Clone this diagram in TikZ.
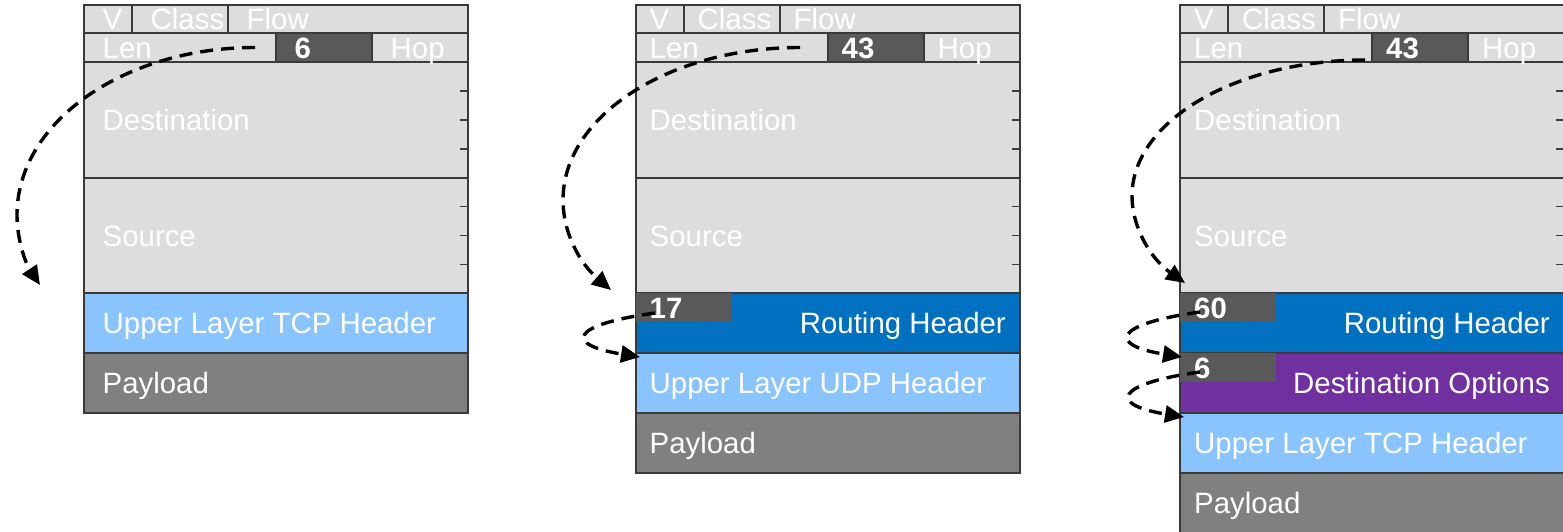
\documentclass[tikz,border=0pt]{standalone}
\usepackage{fontspec}
\setmainfont{Liberation Sans}
\usetikzlibrary{arrows.meta,calc}

\definecolor{fieldgray}{HTML}{DDDDDD}
\definecolor{numgray}{HTML}{595959}
\definecolor{paygray}{HTML}{808080}
\definecolor{ulblue}{HTML}{89C4FF}
\definecolor{rtblue}{HTML}{0070C0}
\definecolor{dopurple}{HTML}{7030A0}
\definecolor{edge}{HTML}{3A3A3A}

% Fixed IPv6 header: #1 tag, #2 left x, #3 text inset, #4 next-header value
\newcommand{\ipfixed}[4]{%
  \node[cell, minimum width=48pt,  minimum height=28pt] (ver#1) at (#2,5) {};
  \node[cell, minimum width=96pt,  minimum height=28pt] (cls#1) at (#2+48,5) {};
  \node[cell, minimum width=240pt, minimum height=28pt] (flw#1) at (#2+144,5) {};
  \node[cell, minimum width=192pt, minimum height=29pt] (len#1) at (#2,33) {};
  \node[cell, fill=numgray, minimum width=96pt, minimum height=29pt] (nxt#1) at (#2+192,33) {};
  \node[cell, minimum width=96pt,  minimum height=29pt] (hop#1) at (#2+288,33) {};
  \node[cell, minimum width=384pt, minimum height=116pt] (dst#1) at (#2,62) {};
  \node[cell, minimum width=384pt, minimum height=115pt] (src#1) at (#2,178) {};
  \foreach \k in {1,2,3} {
    \draw[tick] ($(dst#1.north east)!\k/4!(dst#1.south east)$) -- ++(-8,0);
    \draw[tick] ($(src#1.north east)!\k/4!(src#1.south east)$) -- ++(-8,0);
  }
  \node[lbl] (tver#1) at ($(ver#1.west)+(#3,10.5)$) {V};
  \node[lbl] (tcls#1) at ($(cls#1.west)+(#3,10.5)$) {Class};
  \node[lbl] (tflw#1) at ($(flw#1.west)+(#3,10.5)$) {Flow};
  \node[lbl] (tlen#1) at ($(len#1.west)+(#3,10.5)$) {Len};
  \node[num] (tnxt#1) at ($(nxt#1.west)+(#3,10.5)$) {#4};
  \node[lbl] (thop#1) at ($(hop#1.west)+(#3,10.5)$) {Hop};
  \node[lbl] (tdst#1) at ($(dst#1.west)+(#3,10.5)$) {Destination};
  \node[lbl] (tsrc#1) at ($(src#1.west)+(#3,10.5)$) {Source};
}

% One 60pt high layer below the fixed header: #1 name, #2 left x, #3 top y, #4 colour
\newcommand{\layer}[4]{%
  \node[cell, fill=#4, minimum width=384pt, minimum height=60pt] (#1) at (#2,#3) {};
}

\begin{document}
\begin{tikzpicture}[x=1pt,y=-1pt,
  cell/.style={draw=edge, line width=1.2pt, fill=fieldgray, inner sep=0pt,
               outer sep=0pt, anchor=north west},
  nbox/.style={fill=numgray, inner sep=0pt, outer sep=0pt, anchor=north west,
               minimum width=96pt, minimum height=29pt},
  tick/.style={draw=edge, line width=1.2pt},
  lbl/.style={text=white, inner sep=0pt, anchor=base west,
              font=\fontsize{29.4pt}{34pt}\selectfont},
  num/.style={lbl, font=\fontsize{29.4pt}{34pt}\selectfont\bfseries},
  flow/.style={draw=black, line width=3.4pt, dash pattern=on 13pt off 8pt,
               -{Triangle[length=19pt,width=17pt]}}]

\useasboundingbox (0,0) rectangle (1563,531);

% ---------- packet 1: TCP directly after the IPv6 header ----------
\ipfixed{1}{84}{18.5}{6}
\layer{ul1}{84}{293}{ulblue}
\layer{pl1}{84}{353}{paygray}
\node[lbl] (tul1) at ($(ul1.west)+(18.5,10.5)$) {Upper Layer TCP Header};
\node[lbl] (tpl1) at ($(pl1.west)+(18.5,10.5)$) {Payload};

% ---------- packet 2: routing header, then UDP ----------
\ipfixed{2}{636}{13.5}{43}
\layer{rh2}{636}{293}{rtblue}
\node[nbox] (nb2) at (636,293) {};
\layer{ul2}{636}{353}{ulblue}
\layer{pl2}{636}{413}{paygray}
\node[num] (tnb2) at ($(nb2.west)+(13.5,10.5)$) {17};
\node[lbl, anchor=base east] (trh2) at ($(rh2.east)+(-14,10.5)$) {Routing Header};
\node[lbl] (tul2) at ($(ul2.west)+(13.5,10.5)$) {Upper Layer UDP Header};
\node[lbl] (tpl2) at ($(pl2.west)+(13.5,10.5)$) {Payload};

% ---------- packet 3: routing header, destination options, then TCP ----------
\ipfixed{3}{1180}{14}{43}
\layer{rh3}{1180}{293}{rtblue}
\node[nbox] (nb3) at (1180,293) {};
\layer{dh3}{1180}{353}{dopurple}
\node[nbox] (nc3) at (1180,353) {};
\layer{ul3}{1180}{413}{ulblue}
\layer{pl3}{1180}{473}{paygray}
\node[num] (tnb3) at ($(nb3.west)+(14,10.5)$) {60};
\node[lbl, anchor=base east] (trh3) at ($(rh3.east)+(-14,10.5)$) {Routing Header};
\node[num] (tnc3) at ($(nc3.west)+(14,10.5)$) {6};
\node[lbl, anchor=base east] (tdh3) at ($(dh3.east)+(-14,10.5)$) {Destination Options};
\node[lbl] (tul3) at ($(ul3.west)+(14,10.5)$) {Upper Layer TCP Header};
\node[lbl] (tpl3) at ($(pl3.west)+(14,10.5)$) {Payload};

% ---------- next-header chains ----------
\coordinate (a1s) at ($(len1.east)+(-21,0)$);
\coordinate (a1m) at ($(src1.north west)+(-67,37)$);
\coordinate (a1e) at ($(ul1.north west)+(-44,-8)$);
\draw[flow] (a1s) .. controls +(-131.4,0) and +(0,-92.8) .. (a1m)
                  .. controls +(0,24.5) and +(-14.7,-22.2) .. (a1e);

\coordinate (a2s) at ($(len2.east)+(-28,0)$);
\coordinate (a2m) at ($(src2.north west)+(-73,22)$);
\coordinate (a2e) at ($(rh2.north west)+(-25,-3)$);
\draw[flow] (a2s) .. controls +(-130.9,0) and +(0,-84.2) .. (a2m)
                  .. controls +(0,33.1) and +(-31,-26.5) .. (a2e);

\coordinate (a3s) at ($(len3.east)+(-7,12.5)$);
\coordinate (a3m) at ($(src3.north west)+(-48,18)$);
\coordinate (a3e) at ($(rh3.north west)+(5,-10)$);
\draw[flow] (a3s) .. controls +(-128.7,0) and +(0,-75.1) .. (a3m)
                  .. controls +(0,31.5) and +(-34.3,-24.3) .. (a3e);

\coordinate (b2s) at ($(nb2.west)+(19,5.5)$);
\coordinate (b2e) at ($(ul2.north west)+(4,4)$);
\draw[flow] (b2s) .. controls +(-87,12) and +(-75,-12) .. (b2e);

\coordinate (b3s) at ($(nb3.west)+(20,4.5)$);
\coordinate (b3e) at ($(dh3.north west)+(2,4)$);
\draw[flow] (b3s) .. controls +(-87,12) and +(-75,-12) .. (b3e);

\coordinate (c3s) at ($(nc3.west)+(20,4.5)$);
\coordinate (c3e) at ($(ul3.north west)+(4,4)$);
\draw[flow] (c3s) .. controls +(-87,12) and +(-75,-12) .. (c3e);

\end{tikzpicture}
\end{document}
